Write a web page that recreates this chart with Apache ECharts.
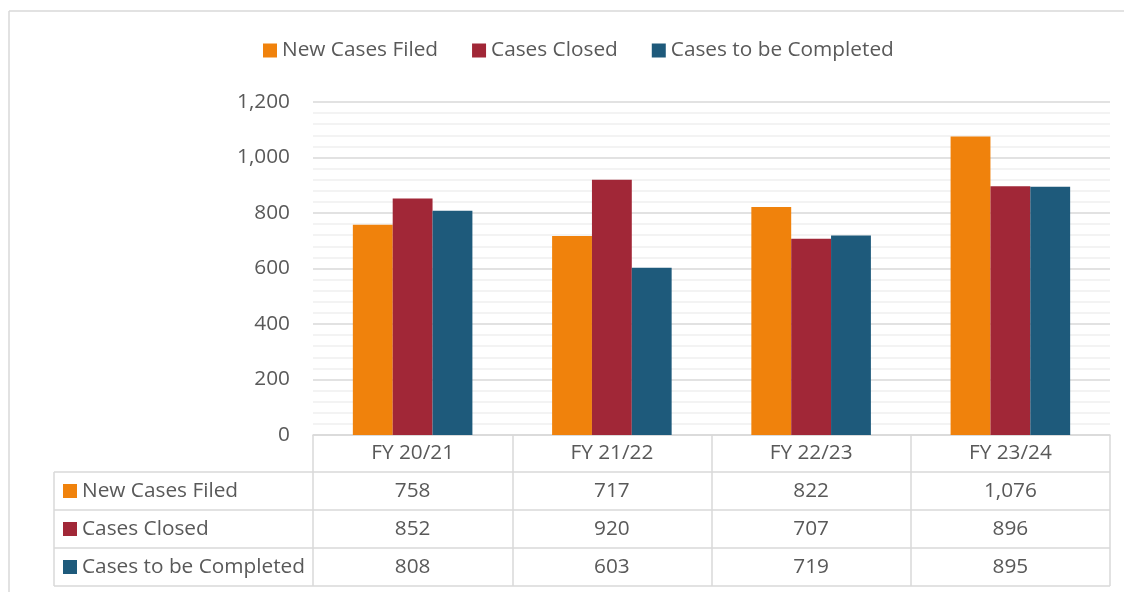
<!DOCTYPE html>
<html>
<head>
<meta charset="utf-8">
<script src="https://cdn.jsdelivr.net/npm/echarts@6/dist/echarts.min.js"></script>
<style>
  html, body { margin: 0; padding: 0; background: #fff; }
  #chart { width: 1124px; height: 592px; }
</style>
</head>
<body>
<div id="chart"></div>
<script>
const categories = ["FY 20/21", "FY 21/22", "FY 22/23", "FY 23/24"];
const seriesNames = ["New Cases Filed", "Cases Closed", "Cases to be Completed"];
const newCasesFiled = [758, 717, 822, 1076];
const casesClosed = [852, 920, 707, 896];
const casesToBeCompleted = [808, 603, 719, 895];
const colors = ["#F0820C", "#A12737", "#1E5A7B"];

const seriesValues = [newCasesFiled, casesClosed, casesToBeCompleted];
const textColor = "#595959";
const lineColor = "#d9d9d9";
const font = "'Open Sans', 'Liberation Sans', sans-serif";
const fs = 20.8;

const chart = echarts.init(document.getElementById("chart"));

const fmt = (v) => v.toLocaleString("en-US");

chart.setOption({
  animation: false,
  color: colors,
  textStyle: { fontFamily: font },
  legend: {
    left: 258,
    top: 35,
    itemWidth: 14,
    itemHeight: 14,
    itemGap: 34,
    icon: "rect",
    textStyle: { fontSize: fs, color: textColor, fontFamily: font },
    data: seriesNames,
  },
  grid: { left: 313, right: 14, top: 102, bottom: 157 },
  xAxis: {
    type: "category",
    data: categories,
    axisLine: { lineStyle: { color: lineColor, width: 1.5 } },
    axisTick: { show: true, interval: 0, length: 151, lineStyle: { color: lineColor, width: 1.5 } },
    axisLabel: {
      fontSize: fs,
      color: textColor,
      fontFamily: font,
      margin: 0,
      lineHeight: 37,
      verticalAlign: "top",
      interval: 0,
    },
  },
  yAxis: {
    type: "value",
    min: 0,
    max: 1200,
    interval: 200,
    axisLine: { show: false },
    axisTick: { show: false },
    axisLabel: { fontSize: fs, color: textColor, fontFamily: font, margin: 23 },
    splitLine: { lineStyle: { color: lineColor, width: 1.5 } },
    minorTick: { show: false, splitNumber: 5 },
    minorSplitLine: { show: true, lineStyle: { color: "#efefef", width: 1.5 } },
  },
  series: seriesNames.map((name, i) => ({
    name,
    type: "bar",
    data: seriesValues[i],
    barGap: "0%",
    barCategoryGap: "40%",
  })),
});

// data table below the plot, laid out from the axis scales
function buildTable() {
  const c0 = chart.convertToPixel({ xAxisIndex: 0 }, 0);
  const c1 = chart.convertToPixel({ xAxisIndex: 0 }, 1);
  const catW = c1 - c0;
  const plotLeft = c0 - catW / 2;
  const plotRight = plotLeft + catW * categories.length;
  const baseY = chart.convertToPixel({ yAxisIndex: 0 }, 0);
  const headerH = 37;
  const rowH = 38;
  const tableLeft = 54;
  const els = [];
  const line = (x1, y1, x2, y2) => ({
    type: "line",
    shape: { x1, y1, x2, y2 },
    style: { stroke: lineColor, lineWidth: 1.5 },
    silent: true,
  });

  // outer frame
  els.push(line(9, 11, 1124, 11));
  els.push(line(9, 11, 9, 592));

  const tableBottom = baseY + headerH + rowH * seriesNames.length;
  els.push(line(tableLeft, baseY + headerH, tableLeft, tableBottom));
  for (let r = 0; r <= seriesNames.length; r++) {
    const y = baseY + headerH + rowH * r;
    els.push(line(tableLeft, y, plotRight, y));
  }

  seriesNames.forEach((name, r) => {
    const cy = baseY + headerH + rowH * r + rowH / 2;
    els.push({
      type: "rect",
      shape: { x: tableLeft + 9, y: cy - 7, width: 14, height: 14 },
      style: { fill: colors[r] },
      silent: true,
    });
    els.push({
      type: "text",
      x: tableLeft + 28,
      y: cy,
      style: { text: name, fill: textColor, font: `${fs}px ${font}`, verticalAlign: "middle" },
      silent: true,
    });
    seriesValues[r].forEach((v, ci) => {
      els.push({
        type: "text",
        x: chart.convertToPixel({ xAxisIndex: 0 }, ci),
        y: cy,
        style: { text: fmt(v), fill: textColor, font: `${fs}px ${font}`, align: "center", verticalAlign: "middle" },
        silent: true,
      });
    });
  });

  chart.setOption({ graphic: els });
}

buildTable();
</script>
</body>
</html>
